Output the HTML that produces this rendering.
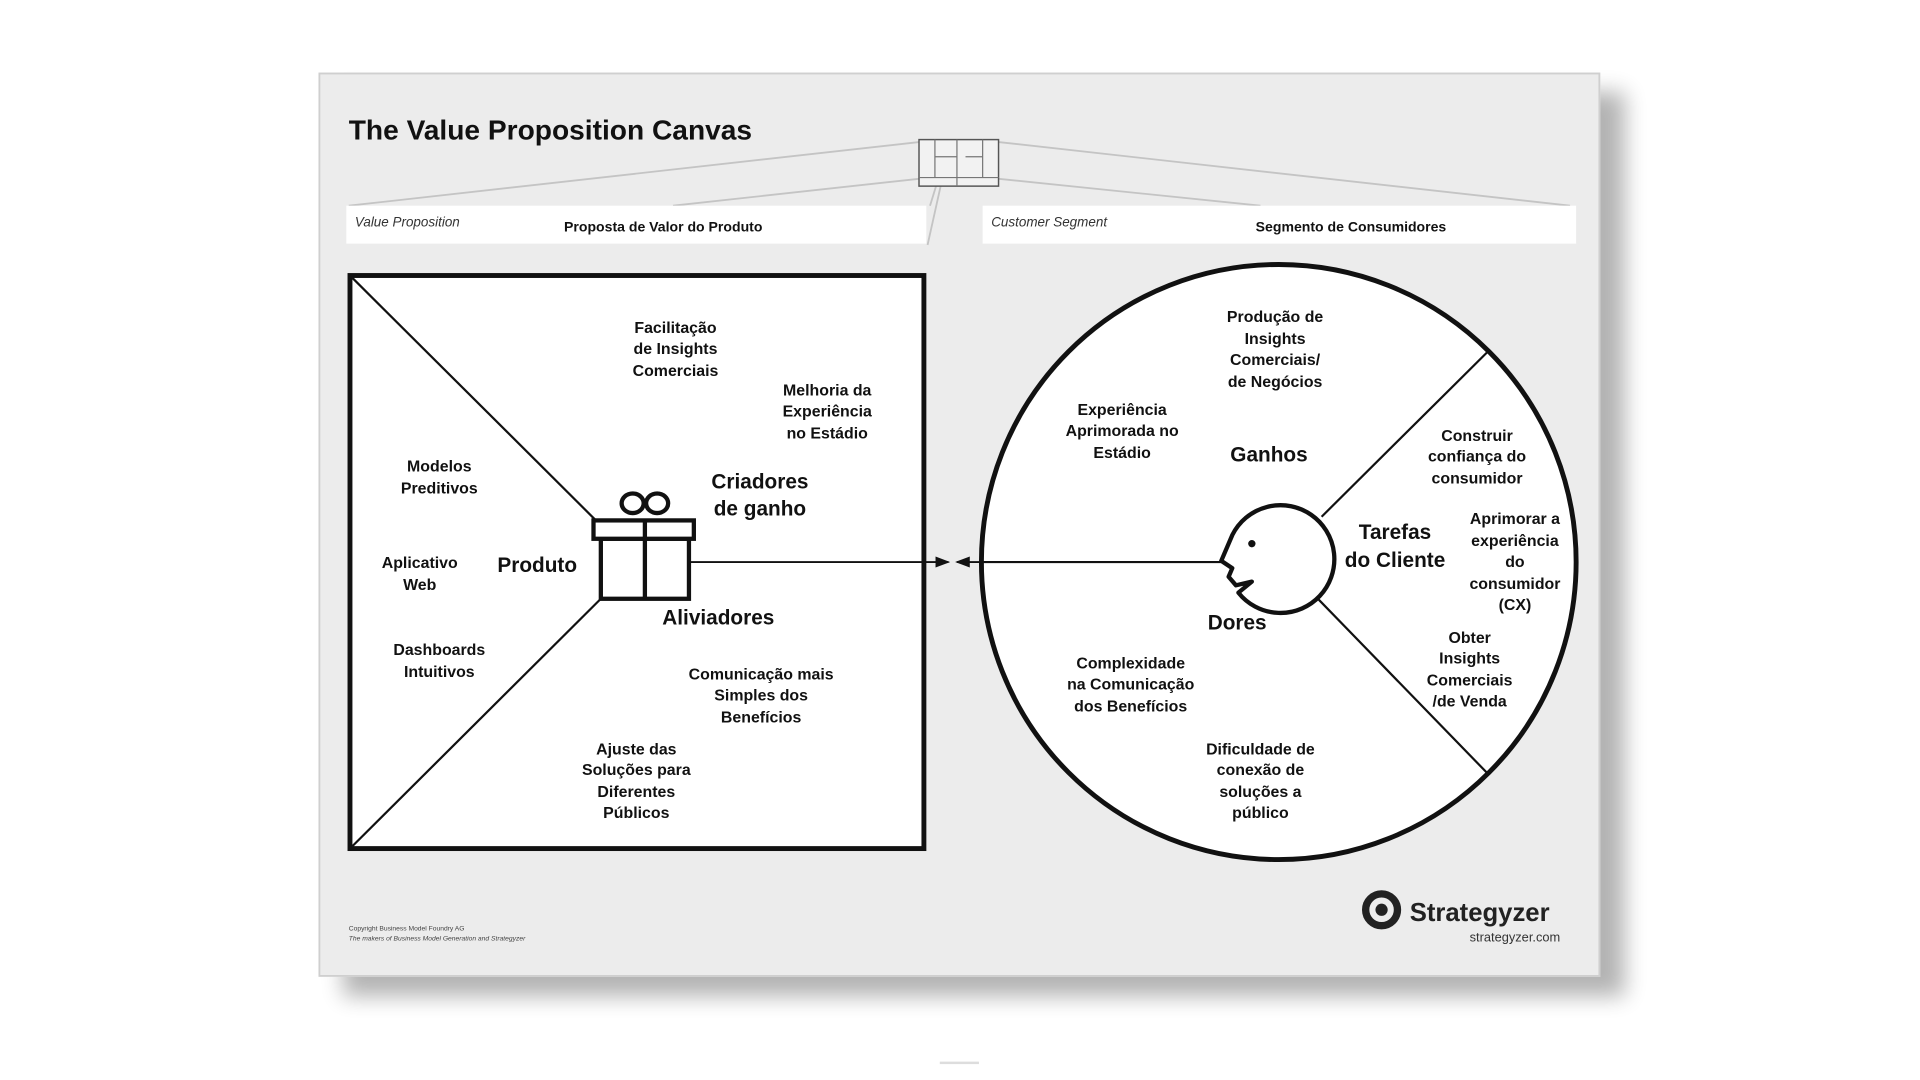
<!DOCTYPE html>
<html><head><meta charset="utf-8"><style>
html,body{margin:0;padding:0;background:#fff;width:1920px;height:1080px;overflow:hidden}
svg{display:block}
text{font-family:"Liberation Sans",sans-serif;fill:#111}
.t{font-weight:bold;font-size:13px;text-anchor:middle}
.h{font-weight:bold;font-size:17px;text-anchor:middle}
</style></head><body>
<svg width="1920" height="1080" viewBox="0 0 1569 882" preserveAspectRatio="none">
<defs>
<filter id="sh" x="-5%" y="-5%" width="115%" height="120%">
<feGaussianBlur in="SourceAlpha" stdDeviation="9"/>
<feOffset dx="20" dy="16"/>
<feComponentTransfer><feFuncA type="linear" slope="0.3"/></feComponentTransfer>
<feMerge><feMergeNode/><feMergeNode in="SourceGraphic"/></feMerge>
</filter>
<marker id="ar" markerWidth="8" markerHeight="8" refX="7" refY="4" orient="auto"><path d="M0,1 L8,4 L0,7 Z" fill="#111"/></marker>
</defs>
<rect x="261" y="60" width="1046" height="737" fill="#ececec" stroke="#cfcfcf" stroke-width="1.5" filter="url(#sh)"/>
<text x="285" y="114" style="font-weight:bold;font-size:23px">The Value Proposition Canvas</text>
<g stroke="#c4c4c4" stroke-width="1.5" fill="none">
<line x1="751" y1="116" x2="285" y2="168"/>
<line x1="751" y1="146" x2="550" y2="168"/>
<line x1="816" y1="116" x2="1283" y2="168"/>
<line x1="816" y1="146" x2="1030" y2="168"/>
<line x1="770" y1="146" x2="758" y2="200"/>
<line x1="776" y1="116" x2="760" y2="168"/>
</g>
<rect x="751" y="114" width="65" height="38" fill="#f2f2f2" stroke="#555" stroke-width="1.2"/>
<g stroke="#777" stroke-width="1" fill="none">
<line x1="751" y1="145" x2="816" y2="145"/><line x1="764" y1="114" x2="764" y2="145"/>
<line x1="782" y1="114" x2="782" y2="152"/><line x1="803" y1="114" x2="803" y2="145"/>
<line x1="764" y1="128" x2="782" y2="128"/><line x1="789" y1="128" x2="803" y2="128"/>
</g>
<rect x="283" y="168" width="474" height="31" fill="#fff"/>
<rect x="803" y="168" width="485" height="31" fill="#fff"/>
<text x="290" y="185" style="font-style:italic;font-size:11px;fill:#333">Value Proposition</text>
<text x="542" y="189" class="t" style="font-size:11.5px">Proposta de Valor do Produto</text>
<text x="810" y="185" style="font-style:italic;font-size:11px;fill:#333">Customer Segment</text>
<text x="1104" y="189" class="t" style="font-size:11.5px">Segmento de Consumidores</text>

<rect x="286" y="225" width="469" height="468" fill="#fff" stroke="#111" stroke-width="4"/>
<g stroke="#111" stroke-width="1.8">
<line x1="288" y1="227" x2="487" y2="425"/>
<line x1="288" y1="691" x2="491" y2="489"/>
</g>
<g stroke="#111" stroke-width="3.5" fill="#fff">
<ellipse cx="517" cy="411" rx="9" ry="8"/><ellipse cx="537" cy="411" rx="9" ry="8"/>
<rect x="491" y="440" width="72" height="49"/>
<rect x="485" y="425" width="82" height="15"/>
<line x1="527" y1="425" x2="527" y2="489"/>
</g>
<line x1="564" y1="459" x2="775" y2="459" stroke="#111" stroke-width="1.5" marker-end="url(#ar)"/>
<line x1="997" y1="459" x2="782" y2="459" stroke="#111" stroke-width="1.5" marker-end="url(#ar)"/>

<circle cx="1045" cy="459" r="243" fill="#fff" stroke="#111" stroke-width="4"/>
<g stroke="#111" stroke-width="1.8">
<line x1="803" y1="459" x2="998" y2="459"/>
<line x1="1080" y1="422" x2="1215" y2="288"/>
<line x1="1076" y1="488" x2="1215" y2="631"/>
</g>
<path d="M1007,437 A44,44 0 1 1 1012,484 L1023,475 L1010,478 L1004,471 L1007,464 L998,458 Z" fill="#fff" stroke="#111" stroke-width="3.5" stroke-linejoin="round"/>
<circle cx="1023" cy="444" r="3" fill="#111"/>

<text x="552" y="272" class="t">Facilitação</text><text x="552" y="289" class="t">de Insights</text><text x="552" y="307" class="t">Comerciais</text>
<text x="676" y="323" class="t">Melhoria da</text><text x="676" y="340" class="t">Experiência</text><text x="676" y="358" class="t">no Estádio</text>
<text x="359" y="385" class="t">Modelos</text><text x="359" y="403" class="t">Preditivos</text>
<text x="343" y="464" class="t">Aplicativo</text><text x="343" y="482" class="t">Web</text>
<text x="359" y="535" class="t">Dashboards</text><text x="359" y="553" class="t">Intuitivos</text>
<text x="622" y="555" class="t">Comunicação mais</text><text x="622" y="572" class="t">Simples dos</text><text x="622" y="590" class="t">Benefícios</text>
<text x="520" y="616" class="t">Ajuste das</text><text x="520" y="633" class="t">Soluções para</text><text x="520" y="651" class="t">Diferentes</text><text x="520" y="668" class="t">Públicos</text>
<text x="621" y="399" class="h">Criadores</text><text x="621" y="421" class="h">de ganho</text>
<text x="439" y="467" class="h">Produto</text>
<text x="587" y="510" class="h">Aliviadores</text>

<text x="1042" y="263" class="t">Produção de</text><text x="1042" y="281" class="t">Insights</text><text x="1042" y="298" class="t">Comerciais/</text><text x="1042" y="316" class="t">de Negócios</text>
<text x="917" y="339" class="t">Experiência</text><text x="917" y="356" class="t">Aprimorada no</text><text x="917" y="374" class="t">Estádio</text>
<text x="1207" y="360" class="t">Construir</text><text x="1207" y="377" class="t">confiança do</text><text x="1207" y="395" class="t">consumidor</text>
<text x="1238" y="428" class="t">Aprimorar a</text><text x="1238" y="446" class="t">experiência</text><text x="1238" y="463" class="t">do</text><text x="1238" y="481" class="t">consumidor</text><text x="1238" y="498" class="t">(CX)</text>
<text x="1201" y="525" class="t">Obter</text><text x="1201" y="542" class="t">Insights</text><text x="1201" y="560" class="t">Comerciais</text><text x="1201" y="577" class="t">/de Venda</text>
<text x="924" y="546" class="t">Complexidade</text><text x="924" y="563" class="t">na Comunicação</text><text x="924" y="581" class="t">dos Benefícios</text>
<text x="1030" y="616" class="t">Dificuldade de</text><text x="1030" y="633" class="t">conexão de</text><text x="1030" y="651" class="t">soluções a</text><text x="1030" y="668" class="t">público</text>
<text x="1037" y="377" class="h">Ganhos</text>
<text x="1140" y="440" class="h">Tarefas</text><text x="1140" y="463" class="h">do Cliente</text>
<text x="1011" y="514" class="h">Dores</text>

<text x="285" y="760" style="font-size:5.5px;fill:#444">Copyright Business Model Foundry AG</text>
<text x="285" y="768" style="font-size:5.5px;font-style:italic;fill:#444">The makers of Business Model Generation and Strategyzer</text>
<circle cx="1129" cy="743" r="13" fill="none" stroke="#222" stroke-width="6"/>
<circle cx="1129" cy="743" r="5" fill="#222"/>
<text x="1152" y="752" style="font-weight:bold;font-size:21px;fill:#222">Strategyzer</text>
<text x="1275" y="769" style="font-size:10.5px;fill:#333;text-anchor:end">strategyzer.com</text>
<rect x="768" y="867" width="32" height="2" fill="#ddd"/>
</svg>
</body></html>
